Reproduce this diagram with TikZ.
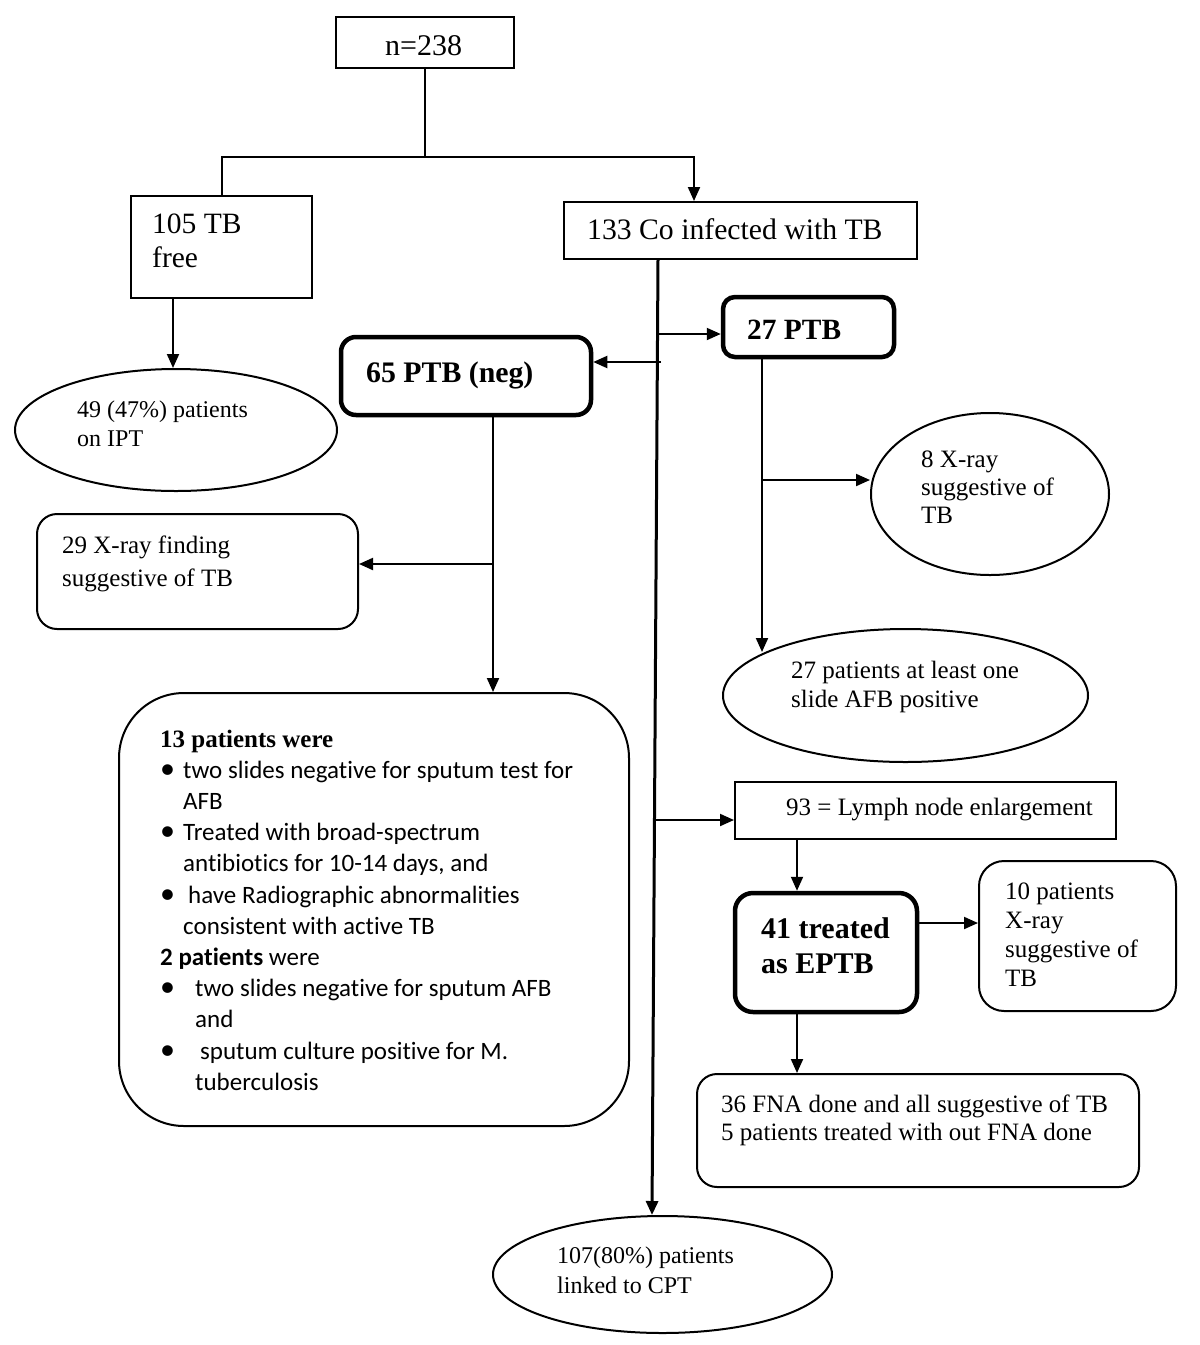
\documentclass[tikz,border=0pt]{standalone}
\usepackage{fontspec}
\setmainfont{Liberation Serif}
\newfontfamily\calfont[Ligatures=NoCommon]{Carlito}
\usetikzlibrary{arrows.meta,shapes.geometric}
\begin{document}
\begin{tikzpicture}[x=1pt,y=-1pt,
  sq/.style={draw, line width=2pt, inner sep=0pt},
  rbox/.style={draw, line width=2pt, inner sep=0pt, rounded corners=#1},
  tbox/.style={draw, line width=4.5pt, inner sep=0pt, rounded corners=#1},
  ell/.style={ellipse, draw, line width=2pt, inner sep=0pt},
  arr/.style={line width=2pt, -{Triangle[length=14pt,width=12pt]}},
  ln/.style={line width=2pt},
  tx/.style={anchor=base west, inner sep=0pt, align=flush left}]
\useasboundingbox (0,0) rectangle (1200,1345);
\fill[white] (0,0) rectangle (1200,1345);

% ---------- shapes ----------
\node[sq, minimum width=178, minimum height=51] (b238) at (425,42.5) {};
\node[sq, minimum width=181, minimum height=102] (b105) at (221.5,247) {};
\node[sq, minimum width=353, minimum height=57] (b133) at (740.5,230.5) {};
\node[ell, minimum width=322, minimum height=122] (e49) at (176,430) {};
\node[tbox=15pt, minimum width=250, minimum height=78] (b65) at (466,376) {};
\node[tbox=12pt, minimum width=171, minimum height=60] (b27) at (808.5,327) {};
\node[rbox=20pt, minimum width=321, minimum height=115] (b29) at (197.5,571.5) {};
\node[rbox=65pt, minimum width=510, minimum height=433] (big) at (374,909.5) {};
\node[ell, minimum width=238, minimum height=162] (e8) at (990,494) {};
\node[ell, minimum width=365, minimum height=133] (e27) at (905.5,695.5) {};
\node[sq, minimum width=381, minimum height=57] (b93) at (925.5,810.5) {};
\node[tbox=18pt, minimum width=182, minimum height=119] (b41) at (826,952.5) {};
\node[rbox=25pt, minimum width=197, minimum height=150] (b10) at (1077.5,936) {};
\node[rbox=20pt, minimum width=442, minimum height=113] (b36) at (918,1130.5) {};
\node[ell, minimum width=339, minimum height=117] (e107) at (662.5,1274.5) {};

% ---------- texts ----------
\node[tx, font=\fontsize{30}{34}\selectfont] (t238) at (385,55) {n=238};
\node[tx, text width=150pt, font=\fontsize{29.5}{34}\selectfont] (t105) at (152,233) {105 TB\\free};
\node[tx, font=\fontsize{29.7}{34}\selectfont] (t133) at (587,239) {133 Co infected with TB};
\node[tx, text width=250pt, font=\fontsize{24}{29}\selectfont] (t49) at (77,417) {49 (47\%) patients\\on IPT};
\node[tx, font=\fontsize{29.8}{34}\selectfont\bfseries] (t65) at (366,382) {65 PTB (neg)};
\node[tx, font=\fontsize{29.4}{34}\selectfont\bfseries] (t27) at (747,339) {27 PTB};
\node[tx, text width=280pt, font=\fontsize{25}{33}\selectfont] (t29) at (62,553) {29 X-ray finding\\suggestive of TB};
\node[tx, text width=170pt, font=\fontsize{25}{28}\selectfont] (t8) at (921,467) {8 X-ray\\suggestive of\\TB};
\node[tx, text width=280pt, font=\fontsize{25}{29}\selectfont] (t27p) at (791,678) {27 patients at least one\\slide AFB positive};
\node[tx, font=\fontsize{25}{29}\selectfont] (t93) at (786,815) {93 = Lymph node enlargement};
\node[tx, text width=150pt, font=\fontsize{30}{35}\selectfont\bfseries] (t41) at (761,938) {41 treated\\as EPTB};
\node[tx, text width=160pt, font=\fontsize{25}{29}\selectfont] (t10) at (1005,899) {10 patients\\X-ray\\suggestive of\\TB};
\node[tx, text width=420pt, font=\fontsize{25}{28}\selectfont] (t36) at (721,1112) {36 FNA done and all suggestive of TB\\5 patients treated with out FNA done};
\node[tx, text width=260pt, font=\fontsize{24}{30}\selectfont] (t107) at (557,1263) {107(80\%) patients\\linked to CPT};
\node[tx, text width=450pt, font=\calfont\fontsize{25}{31.2}\selectfont] (tbig) at (160,747) {%
{\rmfamily\bfseries 13 patients were}\\
\makebox[23pt][l]{\fontsize{30}{31}\selectfont •}two slides negative for sputum test for\\
\hspace*{23pt}AFB\\
\makebox[23pt][l]{\fontsize{30}{31}\selectfont •}Treated with broad-spectrum\\
\hspace*{23pt}antibiotics for 10-14 days, and\\
\makebox[28pt][l]{\fontsize{30}{31}\selectfont •}have Radiographic abnormalities\\
\hspace*{23pt}consistent with active TB\\
{\bfseries 2 patients} were\\
\makebox[35pt][l]{\fontsize{30}{31}\selectfont •}two slides negative for sputum AFB\\
\hspace*{35pt}and\\
\makebox[40pt][l]{\fontsize{30}{31}\selectfont •}sputum culture positive for M.\\
\hspace*{35pt}tuberculosis};

% ---------- coordinates ----------
\coordinate (j1) at (425,157);
\coordinate (x694) at (694,0);
\coordinate (x173) at (173,0);
\coordinate (x658) at (658,0);
\coordinate (x652) at (652,0);
\coordinate (x493) at (493,0);
\coordinate (x762) at (762,0);
\coordinate (x797) at (797,0);
\coordinate (s27) at (658,334);
\coordinate (s65) at (661,362);
\coordinate (s29) at (493,564);
\coordinate (s8) at (762,480);
\coordinate (s93) at (656,820);
\coordinate (s10) at (917,923);
\coordinate (t27tip) at (762,652);

% ---------- connectors ----------
\draw[ln] (b238.south) -- (j1);
\draw[ln] (b105.north) |- (j1);
\draw[arr] (j1) -| (b133.north -| x694);
\draw[arr] (b105.south -| x173) -- (e49.north -| x173);
\draw[arr, line width=3pt] (b133.south -| x658) -- (e107.north -| x652);
\draw[arr] (s27) -- (s27 -| b27.west);
\draw[arr] (s65) -- (s65 -| b65.east);
\draw[arr] (b65.south -| x493) -- (big.north -| x493);
\draw[arr] (s29) -- (s29 -| b29.east);
\draw[arr] (b27.south -| x762) -- (t27tip);
\draw[arr] (s8) -- (s8 -| e8.west);
\draw[arr] (s93) -- (s93 -| b93.west);
\draw[arr] (b93.south -| x797) -- (b41.north -| x797);
\draw[arr] (b41.south -| x797) -- (b36.north -| x797);
\draw[arr] (s10 -| b41.east) -- (s10 -| b10.west);
\end{tikzpicture}
\end{document}
